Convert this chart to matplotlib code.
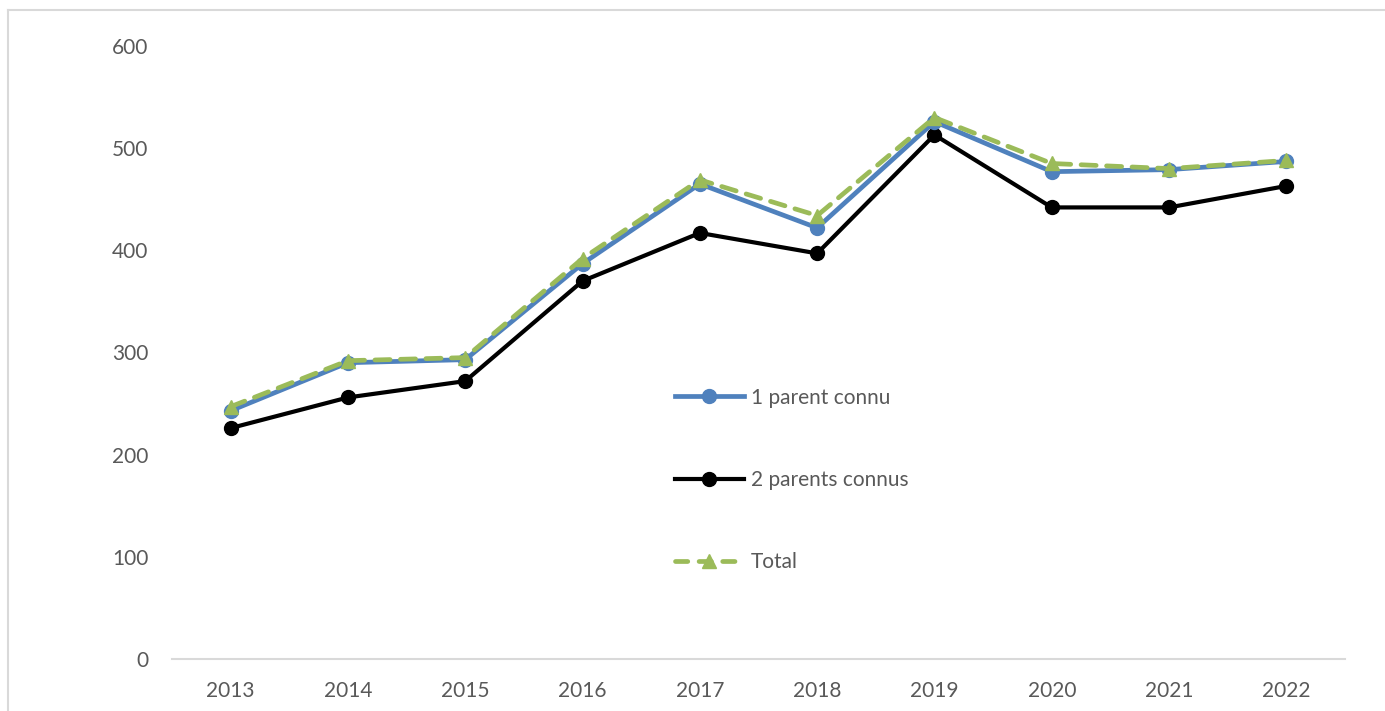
import matplotlib
matplotlib.use("Agg")
import matplotlib.pyplot as plt
from matplotlib.lines import Line2D

years = ["2013", "2014", "2015", "2016", "2017", "2018", "2019", "2020", "2021", "2022"]
un_parent = [243, 290, 293, 387, 465, 422, 526, 477, 479, 487]
deux_parents = [226, 256, 272, 370, 417, 397, 513, 442, 442, 463]
total = [247, 292, 295, 392, 469, 434, 530, 485, 480, 488]
y_ticks = [0, 100, 200, 300, 400, 500, 600]

plt.rcParams['font.family'] = ['Lato', 'DejaVu Sans']
txt = '#595959'

fig = plt.figure(figsize=(13.85, 7.11), dpi=100)
ax = fig.add_axes([172/1385, 1-659/711, (1345-172)/1385, (659-46)/711])

x = list(range(len(years)))
ax.plot(x, deux_parents, color='black', lw=3.0, marker='o', ms=10, zorder=2, label='2 parents connus')
ax.plot(x, un_parent, color='#4f81bd', lw=3.4, marker='o', ms=10, zorder=3, label='1 parent connu')
ax.plot(x, total, color='#9bbb59', lw=3.4, marker='^', ms=10, zorder=4, label='Total',
        linestyle=(0, (3.2, 2.2)), dash_capstyle='round')

ax.set_xlim(-0.5, len(years)-0.5)
ax.set_ylim(0, 600)
ax.set_xticks(x)
ax.set_xticklabels(years)
ax.set_yticks(y_ticks)
ax.tick_params(axis='both', length=0, labelsize=15, labelcolor=txt)
ax.tick_params(axis='x', pad=16)
ax.tick_params(axis='y', pad=17)
for s in ['top', 'right', 'left']:
    ax.spines[s].set_visible(False)
ax.spines['bottom'].set_color('#d9d9d9')
ax.spines['bottom'].set_linewidth(1.5)

handles = [
    Line2D([], [], color='#4f81bd', lw=3.4, marker='o', ms=10),
    Line2D([], [], color='black', lw=3.0, marker='o', ms=10),
    Line2D([], [], color='#9bbb59', lw=3.4, marker='^', ms=10, linestyle=(0, (2.6, 2.4)), dash_capstyle='round'),
]
labels = ['1 parent connu', '2 parents connus', 'Total']
leg = fig.legend(handles, labels, loc='center left', bbox_to_anchor=(675/1385, 1-480/711),
                 frameon=False, fontsize=15, labelspacing=3.0, handlelength=3.3,
                 handletextpad=0.35, borderpad=0, borderaxespad=0)
for t in leg.get_texts():
    t.set_color(txt)

# outer chart border (top and left visible)
fig.add_artist(Line2D([8/1385, 8/1385], [1-10/711, 0], transform=fig.transFigure, color='#d9d9d9', lw=1.5))
fig.add_artist(Line2D([8/1385, 1], [1-10/711, 1-10/711], transform=fig.transFigure, color='#d9d9d9', lw=1.5))

fig.savefig('out.png', dpi=100)
